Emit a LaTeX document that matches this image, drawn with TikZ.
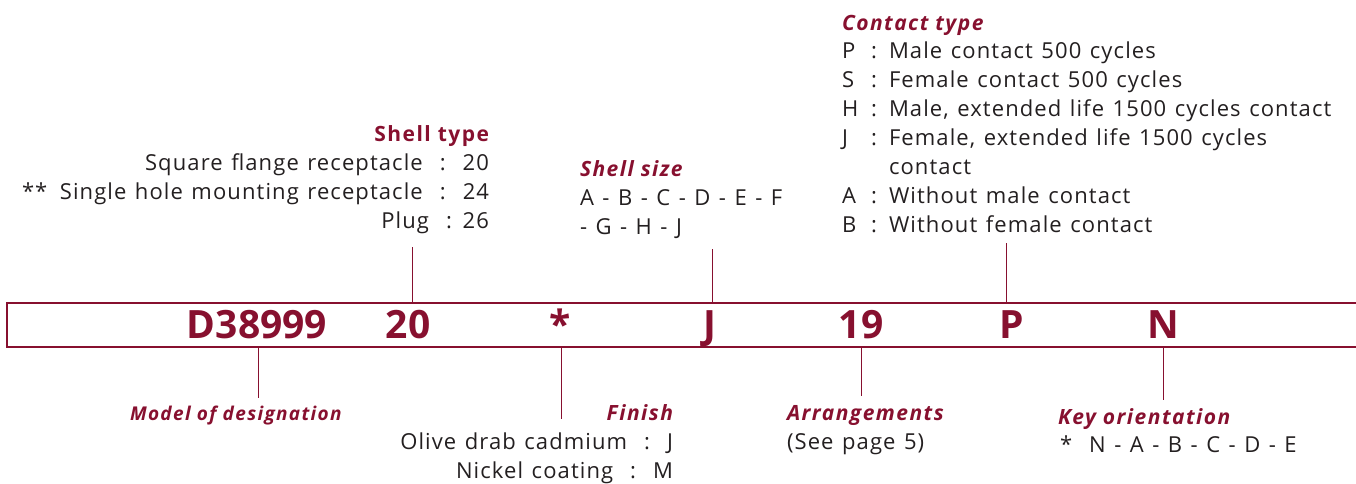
\documentclass[tikz,border=0pt]{standalone}
\usepackage{fontspec}
\setmainfont{Open Sans}[LetterSpace=7]
\newfontfamily\bodyfont{Open Sans}[LetterSpace=5,WordSpace=1.25]
\newfontfamily\codefont{Open Sans}
\definecolor{dred}{HTML}{87102F}
\definecolor{txt}{HTML}{231F20}
\begin{document}
\begin{tikzpicture}[x=1pt,y=-1pt,
  every node/.style={inner sep=0pt,outer sep=0pt},
  body/.style={text=txt,font=\bodyfont\fontsize{22}{29}\selectfont},
  head/.style={text=dred,font=\fontsize{21}{29}\selectfont\bfseries\itshape},
  headup/.style={text=dred,font=\fontsize{21}{29}\selectfont\bfseries},
  code/.style={text=dred,font=\codefont\fontsize{39}{40}\selectfont\bfseries,anchor=base},
  lead/.style={draw=dred,line width=1.3pt}]
\useasboundingbox (0,0) rectangle (1356,483);
% box
\draw[lead] (1356,303) -- (7,303) -- (7,347) -- (1356,347);
% codes
\node[code] (cD) at (257,338) {D38999};
\node[code] (c20) at (408,338) {20};
\node[code] (cst) at (560,338) {*};
\node[code] (cJ) at (710,338) {J};
\node[code] (c19) at (861,338) {19};
\node[code] (cP) at (1012,338) {P};
\node[code] (cN) at (1163,338) {N};
% connector anchors
\coordinate (t20a) at (412,303); \coordinate (t20b) at (412,247);
\coordinate (tJa) at (712,303); \coordinate (tJb) at (712,249);
\coordinate (tPa) at (1006,303); \coordinate (tPb) at (1006,243);
\coordinate (bDa) at (258,347); \coordinate (bDb) at (258,398);
\coordinate (bsa) at (561,347); \coordinate (bsb) at (561,419);
\coordinate (b19a) at (861,347); \coordinate (b19b) at (861,396);
\coordinate (bNa) at (1163,347); \coordinate (bNb) at (1163,400);
\draw[lead,line width=1pt] (t20a) -- (t20b);
\draw[lead,line width=1pt] (tJa) -- (tJb);
\draw[lead,line width=1pt] (tPa) -- (tPb);
\draw[lead,line width=1pt] (bDa) -- (bDb);
\draw[lead,line width=1pt] (bsa) -- (bsb);
\draw[lead,line width=1pt] (b19a) -- (b19b);
\draw[lead,line width=1pt] (bNa) -- (bNb);
% Shell type
\node[headup,anchor=base east] (sth) at (489,141) {Shell type};
\node[body,anchor=base east] (st1) at (489,170) {Square flange receptacle\ \ :\ \ 20};
\node[body,anchor=base east] (st2) at (489,199) {Single hole mounting receptacle\ \ :\ \ 24};
\node[body,anchor=base west] (st2s) at (22,199) {**};
\node[body,anchor=base east] (st3) at (489,228) {Plug\ \ : 26};
% Shell size
\node[head,anchor=base west] (ssh) at (580,176) {Shell size};
\node[body,anchor=base west] (ss1) at (580,205) {A - B - C - D - E - F};
\node[body,anchor=base west] (ss2) at (580,234) {- G - H - J};
% Contact type
\node[head,anchor=base west] (cth) at (842,30) {Contact type};
\foreach \k/\l/\t/\y in {P/P/Male contact 500 cycles/58, S/S/Female contact 500 cycles/87,
  H/H/{Male, extended life 1500 cycles contact}/116, J/J/{Female, extended life 1500 cycles}/145,
  A/A/Without male contact/203, B/B/Without female contact/232}{
  \node[body,anchor=base west] (ctl\k) at (842,\y) {\l};
  \node[body,anchor=base west] (ctc\k) at (871,\y) {:};
  \node[body,anchor=base west] (ctt\k) at (889,\y) {\t};
}
\node[body,anchor=base west] (ctt5) at (889,174) {contact};
% Model of designation
\node[head,anchor=base west,font=\fontsize{19}{29}\selectfont\bfseries\itshape] (mdh) at (130,420) {Model of designation};
% Finish
\node[head,anchor=base east] (fih) at (673,420) {Finish};
\node[body,anchor=base east] (fi1) at (673,449) {Olive drab cadmium\ \ :\ \ J};
\node[body,anchor=base east] (fi2) at (673,478) {Nickel coating\ \ :\ \ M};
% Arrangements
\node[head,anchor=base west] (arh) at (787,420) {Arrangements};
\node[body,anchor=base west] (ar1) at (787,449) {(See page 5)};
% Key orientation
\node[head,anchor=base west] (koh) at (1058,424) {Key orientation};
\node[body,anchor=base west] (ko1) at (1060,452) {*\ \ N - A - B - C - D - E};
\end{tikzpicture}
\end{document}
